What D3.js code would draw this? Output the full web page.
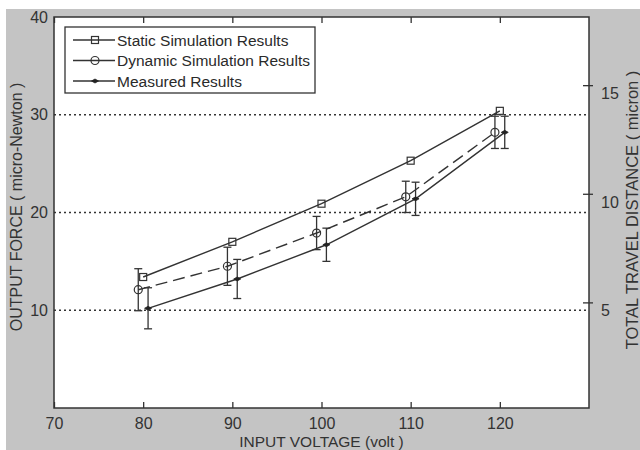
<!DOCTYPE html>
<html>
<head>
<meta charset="utf-8">
<script src="https://cdn.jsdelivr.net/npm/d3@7"></script>
<style>
  html, body { margin: 0; padding: 0; background: #fff; }
  svg { display: block; font-family: "Liberation Sans", Arial, sans-serif; }
</style>
</head>
<body>
<div id="chart"></div>
<script>
// input voltage (volt)
const voltages = [80, 90, 100, 110, 120];
// output force (micro-Newton)
const staticForce = [13.4, 17.0, 20.9, 25.3, 30.4];
const dynamicForce = [12.1, 14.5, 17.9, 21.6, 28.2];
const dynamicErr = [2.15, 1.95, 1.7, 1.6, 1.65];
const measuredForce = [10.2, 13.2, 16.7, 21.4, 28.2];
const measuredErr = [2.1, 2.0, 1.7, 1.7, 1.65];

const xTicks = [70, 80, 90, 100, 110, 120];
const yTicks = [10, 20, 30, 40];
const gridTicks = [10, 20, 30];
const y2Ticks = [5, 10, 15];

const legendLabels = ['Static Simulation Results', 'Dynamic Simulation Results', 'Measured Results'];

const W = 640, H = 450;
const M = { left: 54, top: 17, right: 589, bottom: 408 };
const ink = '#333';

const svg = d3.select('#chart').append('svg')
  .attr('width', W).attr('height', H);

// grey figure background
svg.append('rect').attr('x', 6).attr('y', 9).attr('width', W - 6).attr('height', H - 9)
  .attr('fill', '#c4c4c4');

const x = d3.scaleLinear().domain([70, 130]).range([M.left, M.right]);
const y = d3.scaleLinear().domain([0, 40]).range([M.bottom, M.top]);
const y2 = d3.scaleLinear().domain([0, 18]).range([411, 20]);

// plot area
svg.append('rect').attr('x', M.left).attr('y', M.top)
  .attr('width', M.right - M.left).attr('height', M.bottom - M.top)
  .attr('fill', '#fff');

// dotted grid
svg.append('g').selectAll('line').data(gridTicks).join('line')
  .attr('x1', M.left).attr('x2', M.right)
  .attr('y1', d => y(d)).attr('y2', d => y(d))
  .attr('stroke', ink).attr('stroke-width', 1.3).attr('stroke-dasharray', '2,3');

// x axis (bottom + top ticks inward)
const xb = svg.append('g').attr('transform', `translate(0,${M.bottom})`)
  .call(d3.axisBottom(x).tickValues(xTicks).tickSize(-6).tickPadding(10));
const xt = svg.append('g').attr('transform', `translate(0,${M.top})`)
  .call(d3.axisTop(x).tickValues(xTicks).tickSize(-6).tickFormat(''));
// left axis
const yl = svg.append('g').attr('transform', `translate(${M.left},0)`)
  .call(d3.axisLeft(y).tickValues(yTicks).tickSize(0).tickPadding(6));
// right axis
const yr = svg.append('g').attr('transform', `translate(${M.right},0)`)
  .call(d3.axisRight(y2).tickValues(y2Ticks).tickSize(4).tickPadding(8));
yr.selectAll('.tick line').attr('x1', -6);
yr.selectAll('.tick text').attr('dy', '0.85em');

[xb, xt, yl, yr].forEach(g => {
  g.select('.domain').remove();
  g.selectAll('.tick line').attr('stroke', ink).attr('stroke-width', 1.3);
  g.selectAll('.tick text').attr('fill', '#333').style('font-size', '16px');
});

// frame
svg.append('rect').attr('x', M.left).attr('y', M.top)
  .attr('width', M.right - M.left).attr('height', M.bottom - M.top)
  .attr('fill', 'none').attr('stroke', ink).attr('stroke-width', 1.5);

// axis titles
svg.append('text').attr('x', (M.left + M.right) / 2).attr('y', 447)
  .attr('text-anchor', 'middle').attr('fill', '#333').style('font-size', '15.5px')
  .text('INPUT VOLTAGE (volt )');
svg.append('text').attr('transform', 'translate(22,207) rotate(-90)')
  .attr('text-anchor', 'middle').attr('fill', '#333').style('font-size', '16px')
  .text('OUTPUT FORCE ( micro-Newton )');
svg.append('text').attr('transform', 'translate(638,210) rotate(-90)')
  .attr('text-anchor', 'middle').attr('fill', '#333').style('font-size', '16.5px')
  .text('TOTAL TRAVEL DISTANCE  ( micron )');

const line = d3.line().x(d => x(d[0])).y(d => y(d[1]));
const g = svg.append('g');

const staticPts = voltages.map((v, i) => [v, staticForce[i]]);
const dynPts = voltages.map((v, i) => [v - 0.55, dynamicForce[i], dynamicErr[i]]);
const measPts = voltages.map((v, i) => [v + 0.55, measuredForce[i], measuredErr[i]]);

function errorBars(pts) {
  const eb = g.append('g').attr('stroke', ink).attr('stroke-width', 1.3).attr('fill', 'none');
  pts.forEach(p => {
    const cx = x(p[0]), t = y(p[1] + p[2]), b = y(p[1] - p[2]);
    eb.append('line').attr('x1', cx).attr('x2', cx).attr('y1', t).attr('y2', b);
    eb.append('line').attr('x1', cx - 4).attr('x2', cx + 4).attr('y1', t).attr('y2', t);
    eb.append('line').attr('x1', cx - 4).attr('x2', cx + 4).attr('y1', b).attr('y2', b);
  });
}
errorBars(dynPts);
errorBars(measPts);

g.append('path').datum(staticPts).attr('d', line)
  .attr('fill', 'none').attr('stroke', ink).attr('stroke-width', 1.4);
g.append('path').datum(dynPts).attr('d', line)
  .attr('fill', 'none').attr('stroke', ink).attr('stroke-width', 1.4).attr('stroke-dasharray', '12,6');
g.append('path').datum(measPts).attr('d', line)
  .attr('fill', 'none').attr('stroke', ink).attr('stroke-width', 1.4);

function square(sel, cx, cy) {
  sel.append('rect').attr('x', cx - 3.5).attr('y', cy - 3.5).attr('width', 7).attr('height', 7)
    .attr('fill', 'none').attr('stroke', ink).attr('stroke-width', 1.2);
}
function circle(sel, cx, cy) {
  sel.append('circle').attr('cx', cx).attr('cy', cy).attr('r', 4)
    .attr('fill', 'none').attr('stroke', ink).attr('stroke-width', 1.2);
}
function dot(sel, cx, cy) {
  sel.append('path').attr('d', `M${cx - 3.5},${cy}L${cx},${cy - 2}L${cx + 3.5},${cy}L${cx},${cy + 2}Z`)
    .attr('fill', '#222').attr('stroke', '#222').attr('stroke-width', 0.8);
}
staticPts.forEach(p => square(g, x(p[0]), y(p[1])));
dynPts.forEach(p => circle(g, x(p[0]), y(p[1])));
measPts.forEach(p => dot(g, x(p[0]), y(p[1])));

// legend
const lg = svg.append('g');
lg.append('rect').attr('x', 65).attr('y', 27).attr('width', 250).attr('height', 66)
  .attr('fill', '#fff').attr('stroke', ink).attr('stroke-width', 1.3);
const markers = [square, circle, dot];
legendLabels.forEach((lab, i) => {
  const ly = 40 + i * 20.5;
  lg.append('line').attr('x1', 73).attr('x2', 115).attr('y1', ly).attr('y2', ly)
    .attr('stroke', ink).attr('stroke-width', 1.3);
  markers[i](lg, 95, ly);
  lg.append('text').attr('x', 117).attr('y', ly).attr('dy', '0.36em')
    .attr('fill', '#2a2a2a').style('font-size', '15.5px').text(lab);
});
</script>
</body>
</html>
